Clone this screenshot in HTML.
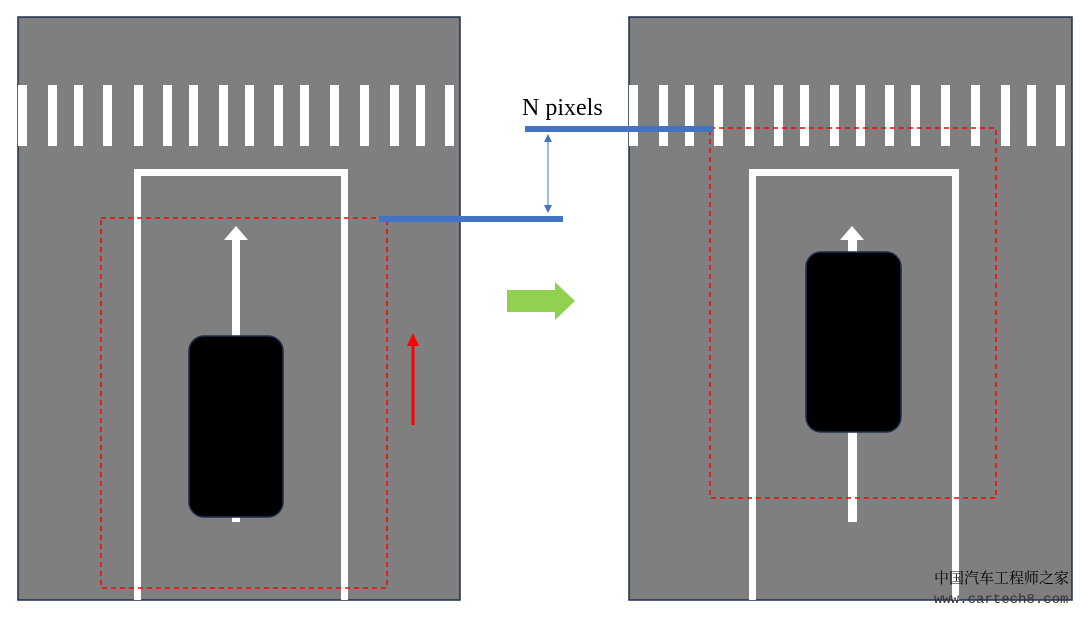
<!DOCTYPE html>
<html><head><meta charset="utf-8"><style>body{margin:0;background:#fff}</style></head><body>
<svg width="1080" height="615" viewBox="0 0 1080 615" xmlns="http://www.w3.org/2000/svg">
<defs>
<g id="stripes">
<rect x="18" y="85" width="9" height="61"/><rect x="48" y="85" width="9" height="61"/><rect x="74" y="85" width="9" height="61"/><rect x="103" y="85" width="9" height="61"/><rect x="134" y="85" width="9" height="61"/><rect x="163" y="85" width="9" height="61"/><rect x="189" y="85" width="9" height="61"/><rect x="219" y="85" width="9" height="61"/><rect x="245" y="85" width="9" height="61"/><rect x="274" y="85" width="9" height="61"/><rect x="300" y="85" width="9" height="61"/><rect x="330" y="85" width="9" height="61"/><rect x="360" y="85" width="9" height="61"/><rect x="390" y="85" width="9" height="61"/><rect x="416" y="85" width="9" height="61"/><rect x="445" y="85" width="9" height="61"/>
</g>
<marker id="ah" markerWidth="8" markerHeight="8" refX="6" refY="4" orient="auto-start-reverse" markerUnits="userSpaceOnUse"><path d="M0,0 L8,4 L0,8 z" fill="#4472c4"/></marker>
</defs>
<rect x="18" y="17" width="442" height="583" fill="#7f7f7f" stroke="#1f2f4f" stroke-width="1.5"/>
<g fill="#fff"><use href="#stripes"/></g>
<path d="M137.5 600 V172.5 H344.5 V600" fill="none" stroke="#fff" stroke-width="7"/>
<rect x="232" y="238" width="8" height="284" fill="#fff"/>
<path d="M224 240 L236 226 L248 240 Z" fill="#fff"/>
<rect x="189" y="336" width="94" height="181" rx="15" fill="#000" stroke="#1f2f4f" stroke-width="1.5"/>
<rect x="101" y="218" width="286" height="370" fill="none" stroke="#f00" stroke-width="1.5" stroke-dasharray="5,4"/>
<line x1="413" y1="425" x2="413" y2="345" stroke="#f00" stroke-width="3"/>
<path d="M407 346 L413 333 L419 346 Z" fill="#f00"/>
<rect x="629" y="17" width="443" height="583" fill="#7f7f7f" stroke="#1f2f4f" stroke-width="1.5"/>
<g fill="#fff" transform="translate(611,0)"><use href="#stripes"/></g>
<path d="M752.5 600 V172.5 H955.5 V600" fill="none" stroke="#fff" stroke-width="7"/>
<rect x="848" y="238" width="9" height="284" fill="#fff"/>
<path d="M840 240 L852 226 L864 240 Z" fill="#fff"/>
<rect x="806" y="252" width="95" height="180" rx="15" fill="#000" stroke="#1f2f4f" stroke-width="1.5"/>
<rect x="710" y="128" width="286" height="370" fill="none" stroke="#f00" stroke-width="1.5" stroke-dasharray="5,4"/>
<rect x="379" y="216" width="184" height="6" fill="#4472c4"/>
<rect x="525" y="126" width="188" height="6" fill="#4472c4"/>
<line x1="548" y1="136" x2="548" y2="211" stroke="#4472c4" stroke-width="1" marker-start="url(#ah)" marker-end="url(#ah)"/>
<text x="522" y="115" font-family="Liberation Serif, serif" font-size="24" fill="#000">N pixels</text>
<path d="M507 290 H555 V282 L575 301 L555 320 V312 H507 Z" fill="#92d050"/>
<text x="934" y="583" font-family="'Noto Serif CJK SC', serif" font-size="15" fill="#000">中国汽车工程师之家</text>
<text x="934" y="603" font-family="Liberation Mono, monospace" font-size="14" fill="#333">www.cartech8.com</text>
</svg>
</body></html>
